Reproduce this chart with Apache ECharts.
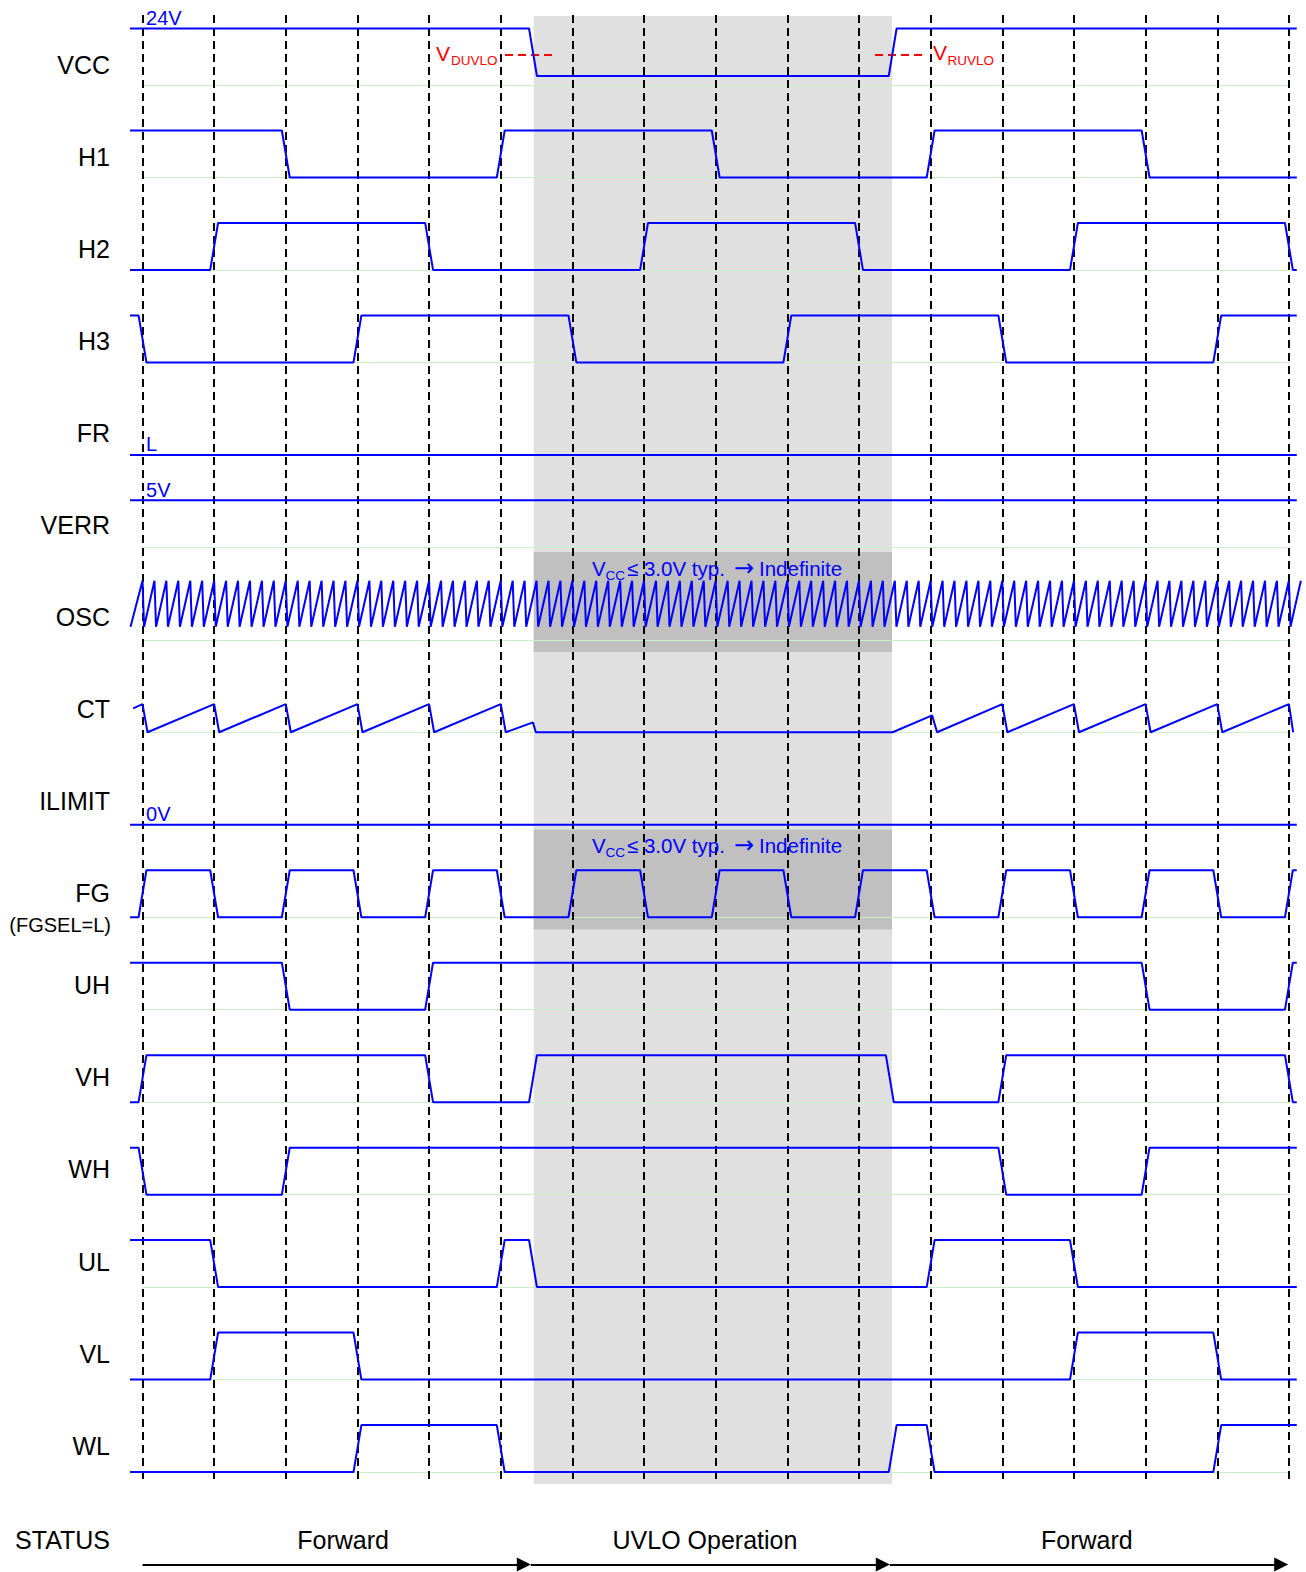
<!DOCTYPE html>
<html>
<head>
<meta charset="utf-8">
<title>UVLO timing chart</title>
<script src="https://cdn.jsdelivr.net/npm/echarts@6.0.0/dist/echarts.min.js"></script>
<style>
html,body{margin:0;padding:0;background:#ffffff;}
#c{width:1306px;height:1572px;}
</style>
</head>
<body>
<div id="c"></div>
<script>
// ================= DATA =================
const rowNames = ['VCC','H1','H2','H3','FR','VERR','OSC','CT','ILIMIT','FG','UH','VH','WH','UL','VL','WL'];
const stepLines = [0,1,2,3,4,5,6,7,8,9,10,11,12,13,14,15,16];
const uvloWindow = [5.46, 10.46];

// digital signals: initial level + edge times (in step units)
const vccInit = 1, vccEdges = [5.45, 10.47];
const h1Init = 1,  h1Edges = [2, 5, 8, 11, 14];
const h2Init = 0,  h2Edges = [1, 4, 7, 10, 13, 16];
const h3Init = 1,  h3Edges = [0, 3, 6, 9, 12, 15];
const frLevel = 0;
const verrLevel = 1;
const ilimitLevel = 0;
const fgInit = 0,  fgEdges = [0, 1, 2, 3, 4, 5, 6, 7, 8, 9, 10, 11, 12, 13, 14, 15, 16];
const uhInit = 1,  uhEdges = [2, 4, 14, 16];
const vhInit = 0,  vhEdges = [0, 4, 5.45, 10.43, 12, 16];
const whInit = 1,  whEdges = [0, 2, 12, 14];
const ulInit = 1,  ulEdges = [1, 5, 5.45, 11, 13];
const vlInit = 0,  vlEdges = [1, 3, 13, 15];
const wlInit = 0,  wlEdges = [3, 5, 10.47, 11, 15];

// OSC sawtooth: times of the peaks
const oscStart = -0.167;
const oscPeaks = [
  0, 0.167, 0.333, 0.5, 0.667, 0.833,
  1, 1.167, 1.333, 1.5, 1.667, 1.833,
  2, 2.167, 2.333, 2.5, 2.667, 2.833,
  3, 3.167, 3.333, 3.5, 3.667, 3.833,
  4, 4.167, 4.333, 4.5, 4.667, 4.833,
  5, 5.167, 5.333, 5.5, 5.667, 5.833,
  6, 6.167, 6.333, 6.5, 6.667, 6.833,
  7, 7.167, 7.333, 7.5, 7.667, 7.833,
  8, 8.167, 8.333, 8.5, 8.667, 8.833,
  9, 9.167, 9.333, 9.5, 9.667, 9.833,
  10, 10.167, 10.333, 10.5, 10.667, 10.833,
  11, 11.167, 11.333, 11.5, 11.667, 11.833,
  12, 12.167, 12.333, 12.5, 12.667, 12.833,
  13, 13.167, 13.333, 13.5, 13.667, 13.833,
  14, 14.167, 14.333, 14.5, 14.667, 14.833,
  15, 15.167, 15.333, 15.5, 15.667, 15.833,
  16, 16.167
];

// CT ramp: [time, level]
const ctPoints = [
  [-0.13,0.51],[0,0.6],[0.07,0],[1,0.6],[1.07,0],[2,0.6],[2.07,0],[3,0.6],[3.07,0],
  [4,0.6],[4.07,0],[5,0.6],[5.07,0],[5.45,0.21],[5.49,0],[10.47,0],[11.02,0.36],[11.09,0],
  [12,0.6],[12.07,0],[13,0.6],[13.07,0],[14,0.6],[14.07,0],[15,0.6],[15.07,0],[16,0.6],[16.06,0]
];

const levelLabels = [['24V',0],['L',4],['5V',5],['0V',8]];
const statusPhases = ['Forward','UVLO Operation','Forward'];
const statusTips = [0, 5.42, 10.43, 15.99];
const statusLabelAt = [2.80, 7.85, 13.18];

// ================= LAYOUT =================
const W = 1306, H = 1572;
const PX0 = 142.5, STEP = 71.65;
const ROW0 = 85, PITCH = 92.47, AMP = 47;
const LABEL0 = 64.5, LABEL_PITCH = 92.08;
const T_START = -0.174, T_END = 16.11;
const EDGE_HW = 0.055, OSC_DROP = 0.022;
const rowOffsets = { VCC: [-9, -56.5], OSC: [-13, -59] }; // [low, high] offsets from baseline
const BLUE = '#0000ff', RED = '#ff0000';
const FONT = '"Liberation Sans", Arial, Helvetica, sans-serif';
const BOX1 = [552, 652];
const BOX2 = [552 + 3 * PITCH, 652 + 3 * PITCH];

function base(i){ return ROW0 + PITCH * i; }
function rowY(i, level){
  const o = rowOffsets[rowNames[i]] || [0, -AMP];
  return base(i) + o[0] + (o[1] - o[0]) * level;
}
function digital(init, edges){
  const pts = [[T_START, init]];
  let lv = init;
  edges.forEach(e => { pts.push([e - EDGE_HW, lv]); lv = 1 - lv; pts.push([e + EDGE_HW, lv]); });
  pts.push([T_END, lv]);
  return pts;
}
function flat(lv){ return [[T_START, lv],[T_END, lv]]; }
function oscSeries(){
  const pts = [[oscStart, 0]];
  oscPeaks.forEach((p, k) => { pts.push([p, 1]); if (k < oscPeaks.length - 1) pts.push([p + OSC_DROP, 0]); });
  return pts;
}

const rowData = {
  VCC: digital(vccInit, vccEdges),
  H1: digital(h1Init, h1Edges),
  H2: digital(h2Init, h2Edges),
  H3: digital(h3Init, h3Edges),
  FR: flat(frLevel),
  VERR: flat(verrLevel),
  OSC: oscSeries(),
  CT: ctPoints,
  ILIMIT: flat(ilimitLevel),
  FG: digital(fgInit, fgEdges),
  UH: digital(uhInit, uhEdges),
  VH: digital(vhInit, vhEdges),
  WH: digital(whInit, whEdges),
  UL: digital(ulInit, ulEdges),
  VL: digital(vlInit, vlEdges),
  WL: digital(wlInit, wlEdges)
};

const chart = echarts.init(document.getElementById('c'), null, {renderer:'svg', width:W, height:H});

const series = [];
series.push({
  type:'line', data:[], silent:true,
  markArea:{ silent:true, z:1, label:{show:false},
    data:[[{coord:[uvloWindow[0],16], itemStyle:{color:'#e0e0e0'}},{coord:[uvloWindow[1],1484]}]] }
});
series.push({
  type:'line', data:[], silent:true,
  markArea:{ silent:true, z:2, label:{show:false},
    data:[
      [{coord:[uvloWindow[0],BOX1[0]], itemStyle:{color:'#c0c0c0'}},{coord:[uvloWindow[1],BOX1[1]]}],
      [{coord:[uvloWindow[0],BOX2[0]], itemStyle:{color:'#c0c0c0'}},{coord:[uvloWindow[1],BOX2[1]]}]
    ] }
});
series.push({
  type:'line', data:[], silent:true,
  markLine:{ silent:true, z:3, symbol:['none','none'], label:{show:false},
    lineStyle:{color:'#c9f0c9', width:1, type:'solid'}, emphasis:{disabled:true},
    data: rowNames.map((n,i) => [{coord:[stepLines[0], base(i)]},{coord:[stepLines[stepLines.length-1], base(i)]}]) }
});
series.push({
  type:'line', data:[], silent:true,
  markLine:{ silent:true, z:4, symbol:['none','none'], label:{show:false},
    lineStyle:{color:'#000000', width:2, type:[8,5]}, emphasis:{disabled:true},
    data: stepLines.map(t => [{coord:[t,15]},{coord:[t,1484]}]) }
});
series.push({
  type:'line', data:[], silent:true,
  markLine:{ silent:true, z:5, symbol:['none','none'], label:{show:false},
    lineStyle:{color:RED, width:2, type:[8,5]}, emphasis:{disabled:true},
    data:[
      [{coord:[(505-PX0)/STEP,55]},{coord:[(552-PX0)/STEP,55]}],
      [{coord:[(875-PX0)/STEP,55]},{coord:[(922-PX0)/STEP,55]}]
    ] }
});
const tipOff = 7 / STEP;
series.push({
  type:'line', data:[], silent:true,
  markLine:{ silent:true, z:5, symbol:['none','triangle'], symbolSize:14, label:{show:false},
    lineStyle:{color:'#000000', width:2, type:'solid'}, itemStyle:{color:'#000000'}, emphasis:{disabled:true},
    data: statusPhases.map((p,k) => [{coord:[statusTips[k], 1564.5]},{coord:[statusTips[k+1]-tipOff, 1564.5]}]) }
});
rowNames.forEach((n,i) => {
  series.push({
    name:n, type:'line', z:6, silent:true, showSymbol:false, symbol:'none', smooth:false,
    lineStyle:{color:BLUE, width:2}, itemStyle:{color:BLUE},
    data: rowData[n].map(p => [p[0], rowY(i, p[1])])
  });
});

chart.setOption({
  animation:false,
  backgroundColor:'#ffffff',
  grid:{left:0, right:0, top:0, bottom:0, containLabel:false},
  xAxis:{type:'value', min:-PX0/STEP, max:(W-PX0)/STEP, show:false, splitLine:{show:false}},
  yAxis:{type:'value', min:0, max:H, inverse:true, show:false, splitLine:{show:false}},
  series: series
});

// ---------- texts ----------
function px(t, y){ return chart.convertToPixel({gridIndex:0}, [t, y]); }
function txt(x, y, s, size, color, align, family){
  return {type:'text', x:x, y:y, silent:true, z:10,
    style:{text:s, fontSize:size, fontFamily:family||FONT, fill:color, align:align||'left', verticalAlign:'middle',
           textAlign:align||'left', textVerticalAlign:'middle'}};
}
const g = [];
rowNames.forEach((n,i) => { g.push(txt(110, LABEL0 + LABEL_PITCH * i, n, 25, '#000000', 'right')); });
g.push(txt(111, LABEL0 + LABEL_PITCH * 9 + 32, '(FGSEL=L)', 20, '#000000', 'right'));
g.push(txt(110, 1540, 'STATUS', 25, '#000000', 'right'));
statusPhases.forEach((p,k) => { const q = px(statusLabelAt[k], 1540); g.push(txt(q[0], q[1], p, 25, '#000000', 'center')); });
levelLabels.forEach(l => {
  const i = l[1];
  const y = (i === 0) ? rowY(0,1) - 11 : (i === 5 ? rowY(5,1) - 10 : base(i) - 10.5);
  const q = px(0.05, y);
  g.push(txt(q[0], q[1], l[0], 20, BLUE, 'left'));
});
g.push(txt(436, 53, 'V', 21, RED, 'left'));
g.push(txt(451, 60.5, 'DUVLO', 13.5, RED, 'left'));
g.push(txt(933, 52.5, 'V', 21, RED, 'left'));
g.push(txt(947.5, 60, 'RUVLO', 13.5, RED, 'left'));
[568, 568 + 3 * PITCH].forEach(y => {
  const q = px((592 - PX0)/STEP, y);
  g.push(txt(q[0], y, 'V', 20.5, BLUE, 'left'));
  g.push(txt(q[0] + 13.5, y + 7, 'CC', 13.5, BLUE, 'left'));
  g.push(txt(q[0] + 35, y, '≤ 3.0V typ.', 20.5, BLUE, 'left'));
  g.push(txt(q[0] + 152, y, '→', 24, BLUE, 'center', '"DejaVu Sans", sans-serif'));
  g.push(txt(q[0] + 167, y, 'Indefinite', 20.5, BLUE, 'left'));
});
chart.setOption({graphic:{elements:g}});
</script>
</body>
</html>
